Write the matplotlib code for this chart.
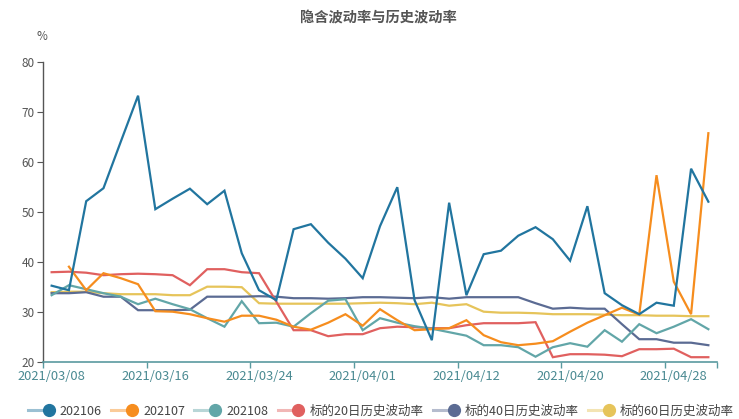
import matplotlib
matplotlib.use("Agg")
import matplotlib.pyplot as plt
from matplotlib.lines import Line2D
from matplotlib.legend_handler import HandlerTuple
import numpy as np

plt.rcParams['font.family'] = ['Noto Sans CJK SC', 'DejaVu Sans']

dates = ["2021/03/08", "2021/03/09", "2021/03/10", "2021/03/11", "2021/03/12", "2021/03/15",
         "2021/03/16", "2021/03/17", "2021/03/18", "2021/03/19", "2021/03/22", "2021/03/23",
         "2021/03/24", "2021/03/25", "2021/03/26", "2021/03/29", "2021/03/30", "2021/03/31",
         "2021/04/01", "2021/04/02", "2021/04/06", "2021/04/07", "2021/04/08", "2021/04/09",
         "2021/04/12", "2021/04/13", "2021/04/14", "2021/04/15", "2021/04/16", "2021/04/19",
         "2021/04/20", "2021/04/21", "2021/04/22", "2021/04/23", "2021/04/26", "2021/04/27",
         "2021/04/28", "2021/04/29", "2021/04/30"]

s202106 = [35.2, 34.3, 52.1, 54.7, 64.0, 73.2, 50.5, 52.6, 54.6, 51.5, 54.2, 41.7, 34.3,
           32.3, 46.5, 47.5, 43.8, 40.6, 36.7, 47.1, 54.9, 32.3, 24.3, 51.8, 33.3, 41.5,
           42.2, 45.2, 46.9, 44.5, 40.2, 51.1, 33.7, 31.3, 29.5, 31.8, 31.2, 58.6, 52.0]
s202107 = [np.nan, 39.0, 34.3, 37.7, 36.7, 35.5, 30.1, 30.0, 29.5, 28.7, 28.0, 29.2, 29.2,
           28.4, 27.0, 26.4, 27.8, 29.5, 27.2, 30.5, 28.3, 26.3, 26.5, 26.7, 28.3, 25.3,
           23.9, 23.3, 23.6, 24.1, 26.0, 27.8, 29.3, 30.8, 29.4, 57.3, 36.0, 29.5, 65.7]
s202108 = [33.3, 35.3, 34.5, 33.7, 33.0, 31.5, 32.6, 31.5, 30.5, 28.7, 27.0, 32.1, 27.7,
           27.8, 27.0, 29.7, 32.2, 32.5, 26.3, 28.7, 27.8, 27.1, 26.6, 25.9, 25.2, 23.3,
           23.3, 22.9, 21.0, 22.9, 23.7, 23.0, 26.3, 24.0, 27.5, 25.7, 27.0, 28.5, 26.5]
hv20 = [37.9, 38.0, 37.8, 37.3, 37.5, 37.6, 37.5, 37.3, 35.3, 38.5, 38.5, 37.9, 37.7,
        32.0, 26.3, 26.3, 25.1, 25.5, 25.5, 26.7, 27.0, 26.9, 26.7, 26.7, 27.3, 27.7,
        27.7, 27.7, 27.9, 20.9, 21.5, 21.5, 21.4, 21.1, 22.5, 22.5, 22.6, 20.9, 20.9]
hv40 = [33.7, 33.7, 33.9, 33.0, 33.0, 30.3, 30.3, 30.3, 30.4, 33.0, 33.0, 33.0, 33.1,
        33.0, 32.7, 32.7, 32.6, 32.7, 32.9, 32.9, 32.8, 32.7, 32.9, 32.6, 32.9, 32.9,
        32.9, 32.9, 31.7, 30.6, 30.8, 30.6, 30.6, 27.5, 24.5, 24.5, 23.8, 23.8, 23.3]
hv60 = [33.9, 34.0, 34.0, 33.7, 33.5, 33.5, 33.5, 33.3, 33.3, 35.0, 35.0, 34.9, 31.7,
        31.6, 31.6, 31.6, 31.6, 31.6, 31.7, 31.8, 31.7, 31.5, 31.8, 31.2, 31.5, 30.0,
        29.8, 29.8, 29.7, 29.5, 29.5, 29.5, 29.4, 29.3, 29.3, 29.2, 29.2, 29.1, 29.1]

names = ["202106", "202107", "202108", "标的20日历史波动率", "标的40日历史波动率", "标的60日历史波动率"]
series = [s202106, s202107, s202108, hv20, hv40, hv60]
colors = ["#21759f", "#f68d1e", "#62a6a8", "#e0605f", "#5b6b93", "#e6c45a"]
draw_order = [5, 4, 3, 2, 1, 0]

fig = plt.figure(figsize=(7.39, 4.19), dpi=100)
ax = fig.add_axes([43 / 739, (419 - 361.7) / 419, (717 - 43) / 739, 300 / 419])

x = np.arange(len(dates))
for k in draw_order:
    ax.plot(x, series[k], color=colors[k], lw=1.6, zorder=3 + (k == 0) * 0.5,
            solid_joinstyle='miter')

ax.set_xlim(-0.5, len(dates) - 0.5)
ax.set_ylim(20, 80)
ax.set_yticks(range(20, 81, 10))

axis_col = "#5a9aa0"
ax.set_xticks(x[::6])
ax.set_xticklabels([dates[i] for i in x[::6]], color="#4a8a92", fontsize=9.3)
ax.set_xticks(list(np.arange(-0.5, len(dates), 6)) + [len(dates) - 0.5], minor=True)
ax.tick_params(axis='x', which='major', length=0, pad=6)
ax.tick_params(axis='x', which='minor', length=4, color=axis_col, width=1)
ax.tick_params(axis='y', length=4, color="#555555", labelcolor="#555555", labelsize=8.5, pad=2)

for s in ['top', 'right']:
    ax.spines[s].set_visible(False)
ax.spines['bottom'].set_color(axis_col)
ax.spines['bottom'].set_linewidth(1.2)
ax.spines['left'].set_color("#555555")
ax.spines['left'].set_linewidth(1.0)

fig.text(378 / 739, 1 - 18 / 419, "隐含波动率与历史波动率", ha='center', va='center',
         fontsize=10.3, fontweight='bold', color="#555555")
fig.text(42 / 739, 1 - 37 / 419, "%", ha='center', va='center', fontsize=8.5, color="#555555")

handles = []
for c in colors:
    handles.append((Line2D([], [], color=c, alpha=0.45, lw=2.2),
                    Line2D([], [], color=c, marker='o', ms=8.5, ls='none')))
fig.legend(handles, names, handler_map={tuple: HandlerTuple(ndivide=None, pad=0)},
           loc='center', bbox_to_anchor=(381 / 739, 1 - 411 / 419), ncol=6, frameon=False,
           fontsize=9, handlelength=2.2, handletextpad=0.35, columnspacing=0.75,
           labelcolor="#444444")

fig.savefig("out.png", dpi=100)
